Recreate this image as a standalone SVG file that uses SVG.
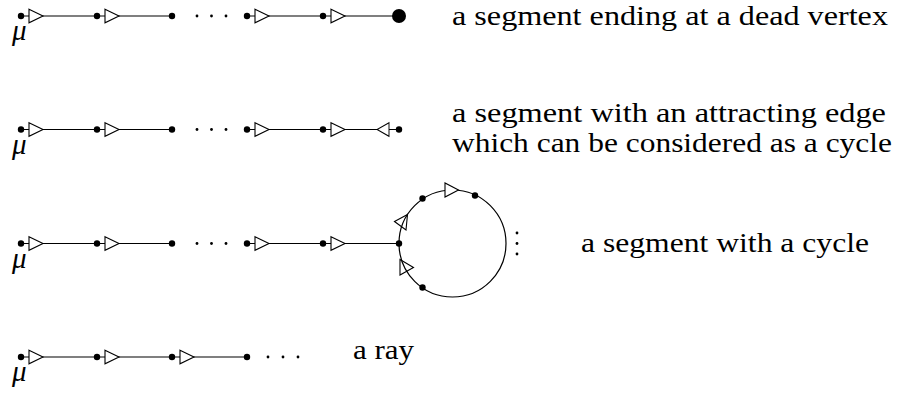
<svg xmlns="http://www.w3.org/2000/svg" xmlns:xlink="http://www.w3.org/1999/xlink" width="899" height="394" viewBox="0 0 899 394">
<style>
.edge{stroke:#000;stroke-width:1.2;fill:none}
.tri{stroke:#000;stroke-width:1.1;fill:#fff;stroke-linejoin:miter}
.tri2{stroke:#000;stroke-width:1.1;fill:none}
.v{fill:#000}
.lbl{font-family:"Liberation Serif","Times New Roman",serif;font-size:27px;fill:#000}
.mu{font-family:"Liberation Serif","Times New Roman",serif;font-size:29px;font-style:italic;fill:#000}
</style>
<defs>
<path id="t" class="tri" d="M0,-6.8 L14,0 L0,6.8 Z"/>
<circle id="n" r="3.2" class="v"/>
<circle id="d" r="1.4" class="v"/>
</defs>
<rect width="899" height="394" fill="#fff"/>

<g id="connectors">
  <path class="edge" d="M21,16H172M247,16H399"/>
  <use href="#t" x="29" y="16"/><use href="#t" x="105" y="16"/>
  <use href="#t" x="255" y="16"/><use href="#t" x="331" y="16"/>
  <path class="edge" d="M21,129.5H172M247,129.5H399"/>
  <use href="#t" x="29" y="129.5"/><use href="#t" x="105" y="129.5"/>
  <use href="#t" x="255" y="129.5"/><use href="#t" x="331" y="129.5"/>
  <use href="#t" transform="translate(389,129.5) scale(-0.85,1)"/>
  <path class="edge" d="M21,243.5H172M247,243.5H399"/>
  <circle class="edge" cx="452.5" cy="243.5" r="53.5"/>
  <use href="#t" x="29" y="243.5"/><use href="#t" x="105" y="243.5"/>
  <use href="#t" x="255" y="243.5"/><use href="#t" x="331" y="243.5"/>
  <polygon class="tri" points="445,183 445,197 458.5,190"/>
  <polygon class="tri2" points="394.5,221.5 407.5,214.5 406,230"/>
  <polygon class="tri2" points="400,259.5 400,275 413.5,267.5"/>
  <path class="edge" d="M21,357H247"/>
  <use href="#t" x="29" y="357"/><use href="#t" x="105" y="357"/><use href="#t" x="180" y="357"/>
</g>

<g id="row1">
  <g id="r1n1"><use href="#n" x="21" y="16"/><text class="mu" x="12" y="40">μ</text></g>
  <g id="r1n2"><use href="#n" x="97" y="16"/></g>
  <g id="r1n3"><use href="#n" x="172" y="16"/></g>
  <g id="r1dots"><use href="#d" x="197" y="16"/><use href="#d" x="211.5" y="16"/><use href="#d" x="226" y="16"/></g>
  <g id="r1n4"><use href="#n" x="247" y="16"/></g>
  <g id="r1n5"><use href="#n" x="323" y="16"/></g>
  <g id="r1dead"><circle cx="399" cy="16" r="7" class="v"/></g>
  <g id="r1label"><text class="lbl" x="452" y="25" textLength="436" lengthAdjust="spacingAndGlyphs">a segment ending at a dead vertex</text></g>
</g>

<g id="row2">
  <g id="r2n1"><use href="#n" x="21" y="129.5"/><text class="mu" x="12" y="153.5">μ</text></g>
  <g id="r2n2"><use href="#n" x="97" y="129.5"/></g>
  <g id="r2n3"><use href="#n" x="172" y="129.5"/></g>
  <g id="r2dots"><use href="#d" x="197" y="129.5"/><use href="#d" x="211.5" y="129.5"/><use href="#d" x="226" y="129.5"/></g>
  <g id="r2n4"><use href="#n" x="247" y="129.5"/></g>
  <g id="r2n5"><use href="#n" x="323" y="129.5"/></g>
  <g id="r2n6"><use href="#n" x="399" y="129.5"/></g>
  <g id="r2label">
    <text class="lbl" x="452" y="122" textLength="434" lengthAdjust="spacingAndGlyphs">a segment with an attracting edge</text>
    <text class="lbl" x="452" y="152" textLength="440" lengthAdjust="spacingAndGlyphs">which can be considered as a cycle</text>
  </g>
</g>

<g id="row3">
  <g id="r3n1"><use href="#n" x="21" y="243.5"/><text class="mu" x="12" y="267.5">μ</text></g>
  <g id="r3n2"><use href="#n" x="97" y="243.5"/></g>
  <g id="r3n3"><use href="#n" x="172" y="243.5"/></g>
  <g id="r3dots"><use href="#d" x="197" y="243.5"/><use href="#d" x="211.5" y="243.5"/><use href="#d" x="226" y="243.5"/></g>
  <g id="r3n4"><use href="#n" x="247" y="243.5"/></g>
  <g id="r3n5"><use href="#n" x="323" y="243.5"/></g>
  <g id="r3n6"><use href="#n" x="399" y="243.5"/></g>
  <g id="r3c1"><use href="#n" x="422.5" y="198.5"/></g>
  <g id="r3c2"><use href="#n" x="475" y="195.5"/></g>
  <g id="r3c3"><use href="#n" x="422.5" y="287.5"/></g>
  <g id="r3vdots"><use href="#d" x="517" y="233"/><use href="#d" x="517" y="243.5"/><use href="#d" x="517" y="254"/></g>
  <g id="r3label"><text class="lbl" x="581" y="252" textLength="288" lengthAdjust="spacingAndGlyphs">a segment with a cycle</text></g>
</g>

<g id="row4">
  <g id="r4n1"><use href="#n" x="21" y="357"/><text class="mu" x="12" y="381">μ</text></g>
  <g id="r4n2"><use href="#n" x="97" y="357"/></g>
  <g id="r4n3"><use href="#n" x="172" y="357"/></g>
  <g id="r4n4"><use href="#n" x="247" y="357"/></g>
  <g id="r4dots"><use href="#d" x="268" y="357"/><use href="#d" x="283" y="357"/><use href="#d" x="298" y="357"/></g>
  <g id="r4label"><text class="lbl" x="353" y="359" textLength="61" lengthAdjust="spacingAndGlyphs">a ray</text></g>
</g>
</svg>
